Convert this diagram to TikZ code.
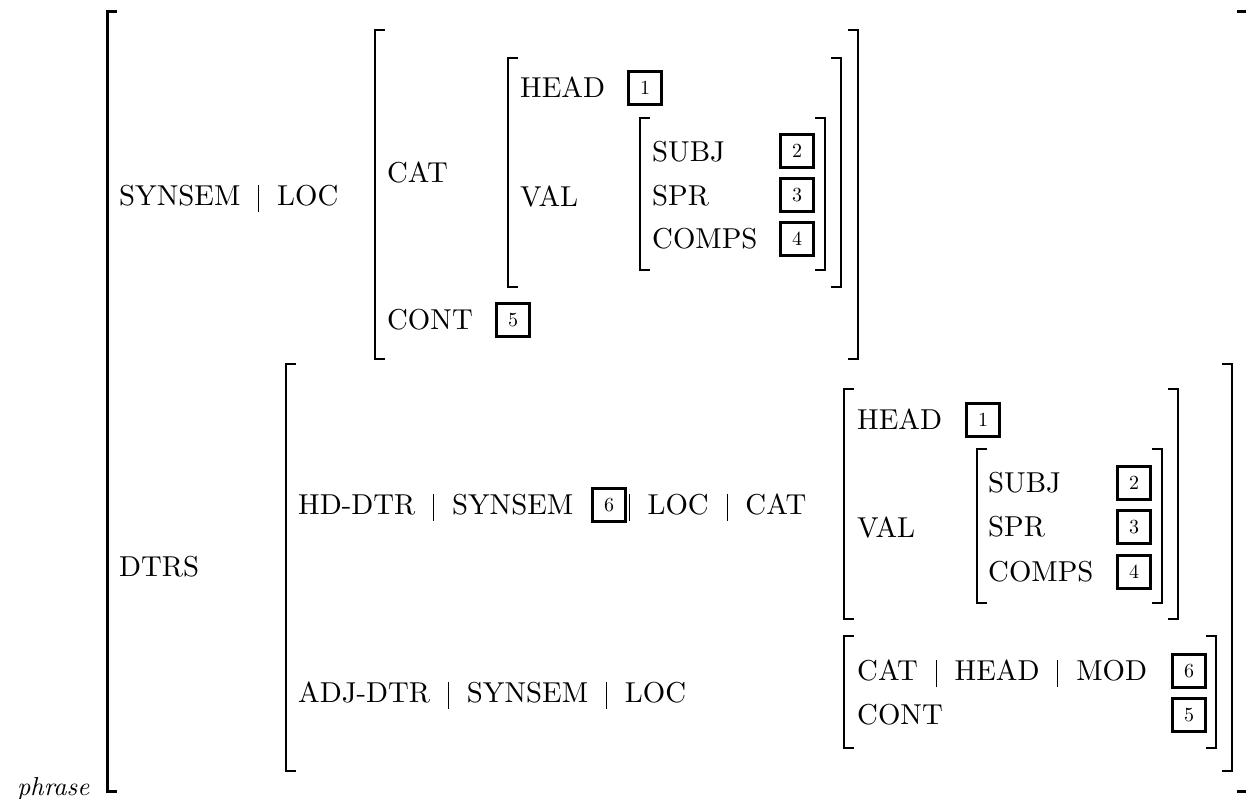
\documentclass[tikz,border=0pt]{standalone}
\usepackage{fontspec}
\setmainfont{lmroman10}[Extension=.otf, UprightFont=*-regular, ItalicFont=*-italic, BoldFont=*-bold, BoldItalicFont=*-bolditalic]
\newcommand\avmbar{\rule[-0.21em]{0.035em}{0.94em}}
\newcommand\avmpipe{\hspace{0.62em}\avmbar\hspace{0.62em}}
\tikzset{
  lab/.style={anchor=west, inner sep=0pt, text height=19.7pt, text depth=0pt, font=\fontsize{28.8}{34}\selectfont},
  tagbox/.style={draw, line width=2.3pt, minimum width=33pt, minimum height=33pt, inner sep=0pt, font=\fontsize{20}{20}\selectfont},
  brk/.style={line width=2pt},
  obrk/.style={line width=3pt},
}
\begin{document}
\begin{tikzpicture}[x=1pt,y=-1pt]
\useasboundingbox (0,0) rectangle (1246,799);
% outer brackets
\draw[obrk] (117,12) -| (107,791) -- (117,791);
\draw[obrk] (1237,12) -| (1248,791) -- (1237,791);
\node[anchor=base west, inner sep=0pt, font=\fontsize{26}{30}\selectfont\itshape] (phr) at (17,795) {phrase};
% SYNSEM | LOC
\node[lab] (synloc) at (119,196) {SYNSEM\avmpipe LOC};
\draw[brk] (385,30) -| (375,359) -- (385,359);
\draw[brk] (848,30) -| (858,359) -- (848,359);
\node[lab] (cat1) at (387,173) {CAT};
\node[lab] (cont1) at (387,320) {CONT};
\node[tagbox] (t5a) at (513,320) {5};
\draw[brk] (518,58) -| (508,287) -- (518,287);
\draw[brk] (831,58) -| (841,287) -- (831,287);
\node[lab] (head1) at (520,88) {HEAD};
\node[tagbox] (t1a) at (645,88) {1};
\node[lab] (val1) at (520,197) {VAL};
\draw[brk] (650,118) -| (640,270) -- (650,270);
\draw[brk] (815,118) -| (825,270) -- (815,270);
\node[lab] (subj1) at (652,152) {SUBJ};
\node[tagbox] (t2a) at (797,151) {2};
\node[lab] (spr1) at (652,196) {SPR};
\node[tagbox] (t3a) at (797,195) {3};
\node[lab] (comps1) at (652,239) {COMPS};
\node[tagbox] (t4a) at (797,239) {4};
% DTRS
\node[lab] (dtrs) at (119,567) {DTRS};
\draw[brk] (296,364) -| (286,771) -- (296,771);
\draw[brk] (1222,364) -| (1232,771) -- (1222,771);
\node[lab] (hd) at (298,505) {HD-DTR\avmpipe SYNSEM};
\node[tagbox] (t6a) at (609,505) {6};
\node[lab] (hdrest) at (628.5,505) {\avmbar\hspace{0.62em}LOC\avmpipe CAT};
\draw[brk] (854,389) -| (844,619) -- (854,619);
\draw[brk] (1168,389) -| (1178,619) -- (1168,619);
\node[lab] (head2) at (857,420) {HEAD};
\node[tagbox] (t1b) at (983,420) {1};
\node[lab] (val2) at (857,528) {VAL};
\draw[brk] (987,449) -| (977,603) -- (987,603);
\draw[brk] (1152,449) -| (1162,603) -- (1152,603);
\node[lab] (subj2) at (988,483) {SUBJ};
\node[tagbox] (t2b) at (1134,483) {2};
\node[lab] (spr2) at (988,527) {SPR};
\node[tagbox] (t3b) at (1134,527) {3};
\node[lab] (comps2) at (988,572) {COMPS};
\node[tagbox] (t4b) at (1134,572) {4};
\node[lab] (adj) at (298,693) {ADJ-DTR\avmpipe SYNSEM\avmpipe LOC};
\draw[brk] (854,636) -| (844,748) -- (854,748);
\draw[brk] (1206,636) -| (1216,748) -- (1206,748);
\node[lab] (mod) at (857,671) {CAT\avmpipe HEAD\avmpipe MOD};
\node[tagbox] (t6b) at (1189,671) {6};
\node[lab] (cont2) at (857,715) {CONT};
\node[tagbox] (t5b) at (1189,715) {5};
\end{tikzpicture}
\end{document}
